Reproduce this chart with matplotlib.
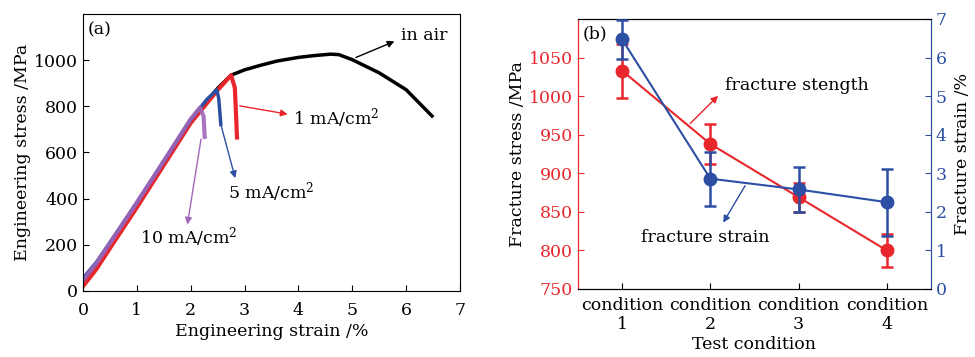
import matplotlib
matplotlib.use("Agg")
import matplotlib.pyplot as plt

plt.rcParams['font.family'] = ['DejaVu Serif']
plt.rcParams['mathtext.fontset'] = 'dejavuserif'

# ---- panel (a): stress-strain curves ----
air_strain = [0, 0.25, 0.5, 1.0, 1.5, 2.0, 2.5, 2.75, 3.0, 3.3, 3.6, 4.0, 4.3, 4.6, 4.75, 5.0, 5.5, 6.0, 6.48]
air_stress = [35, 115, 205, 380, 560, 740, 878, 935, 958, 978, 996, 1012, 1020, 1026, 1024, 1002, 945, 872, 758]

s1_strain = [0, 0.25, 0.5, 1.0, 1.5, 2.0, 2.5, 2.75, 2.82, 2.86]
s1_stress = [20, 95, 185, 362, 545, 728, 870, 935, 880, 665]

s5_strain = [0, 0.25, 0.5, 1.0, 1.5, 2.0, 2.3, 2.485, 2.52, 2.56]
s5_stress = [55, 125, 210, 383, 562, 742, 830, 871, 835, 720]

s10_strain = [0, 0.25, 0.5, 1.0, 1.5, 2.0, 2.175, 2.24, 2.26]
s10_stress = [45, 120, 207, 383, 563, 745, 795, 756, 668]

# ---- panel (b): fracture stress / strain ----
conditions = [1, 2, 3, 4]
cond_labels = ['condition\n1', 'condition\n2', 'condition\n3', 'condition\n4']
frac_stress = [1033, 938, 869, 800]
frac_stress_err = [35, 26, 19, 21]
frac_strain = [6.47, 2.86, 2.58, 2.25]
frac_strain_err = [0.5, 0.7, 0.58, 0.87]

RED = '#e8262b'
BLUE = '#2c4ea3'
PURPLE = '#a066b8'
FS = 12.5

fig = plt.figure(figsize=(9.75, 3.57), dpi=100)

ax = fig.add_axes([0.0851, 0.1849, 0.3867, 0.7759])
ax.plot(air_strain, air_stress, color='black', lw=2.5)
ax.plot(s1_strain, s1_stress, color=RED, lw=3)
ax.plot(s5_strain, s5_stress, color=BLUE, lw=2.5)
ax.plot(s10_strain, s10_stress, color=PURPLE, lw=3, alpha=0.9)
ax.set_xlim(0, 7)
ax.set_ylim(0, 1200)
ax.set_xticks(range(0, 8))
ax.set_yticks(range(0, 1001, 200))
ax.tick_params(direction='in', labelsize=FS, length=4)
ax.tick_params(axis='x', pad=8)
ax.set_xlabel('Engineering strain /%', fontsize=FS, labelpad=3)
ax.set_ylabel('Engineering stress /MPa', fontsize=FS, labelpad=2)
ax.text(0.013, 0.975, '(a)', transform=ax.transAxes, va='top', ha='left', fontsize=FS)

ax.annotate('', xy=(5.83, 1086), xytext=(5.02, 1007),
            arrowprops=dict(arrowstyle='-|>', color='black', lw=1, mutation_scale=10))
ax.text(5.9, 1108, 'in air', fontsize=FS, va='center', ha='left')
ax.annotate('', xy=(3.85, 764), xytext=(2.86, 804),
            arrowprops=dict(arrowstyle='-|>', color=RED, lw=1, mutation_scale=10))
ax.text(3.9, 748, '1 mA/cm$^2$', fontsize=FS, va='center', ha='left')
ax.annotate('', xy=(2.84, 477), xytext=(2.56, 721),
            arrowprops=dict(arrowstyle='-|>', color=BLUE, lw=1, mutation_scale=10))
ax.text(2.7, 427, '5 mA/cm$^2$', fontsize=FS, va='center', ha='left')
ax.annotate('', xy=(1.93, 276), xytext=(2.2, 670),
            arrowprops=dict(arrowstyle='-|>', color=PURPLE, lw=1, mutation_scale=10))
ax.text(1.06, 233, '10 mA/cm$^2$', fontsize=FS, va='center', ha='left')

# ---- panel (b) ----
bx = fig.add_axes([0.5928, 0.1905, 0.362, 0.7563])
bx2 = bx.twinx()
bx.errorbar(conditions, frac_stress, yerr=frac_stress_err, color=RED, lw=1.5,
            elinewidth=1.8, capsize=4, capthick=1.8, marker='o', markersize=9, zorder=3)
bx2.errorbar(conditions, frac_strain, yerr=frac_strain_err, color=BLUE, lw=1.5,
             elinewidth=1.8, capsize=4, capthick=1.8, marker='o', markersize=9, zorder=3)
bx.set_xlim(0.5, 4.5)
bx.set_ylim(750, 1100)
bx.set_yticks(range(750, 1051, 50))
bx2.set_ylim(0, 7)
bx2.set_yticks(range(0, 8))
bx.set_xticks(conditions)
bx.set_xticklabels(cond_labels, fontsize=FS, linespacing=1.15)
bx.tick_params(axis='x', direction='in', length=4, pad=6)
bx.tick_params(axis='y', direction='in', length=4, labelsize=FS, colors=RED)
bx2.tick_params(axis='y', direction='in', length=4, labelsize=FS, colors=BLUE)
bx2.spines['left'].set_color(RED)
bx2.spines['right'].set_color(BLUE)
bx.spines['left'].set_color(RED)
bx.spines['right'].set_color(BLUE)
bx.set_xlabel('Test condition', fontsize=FS, labelpad=2)
bx.set_ylabel('Fracture stress /MPa', fontsize=FS, labelpad=2)
bx2.set_ylabel('Fracture strain /%', fontsize=FS, labelpad=5)
bx.text(0.013, 0.975, '(b)', transform=bx.transAxes, va='top', ha='left', fontsize=FS)

bx.annotate('', xy=(2.11, 1003), xytext=(1.75, 962),
            arrowprops=dict(arrowstyle='-|>', color=RED, lw=1, mutation_scale=10))
bx.text(2.17, 1014, 'fracture stength', fontsize=FS, va='center', ha='left')
bx.annotate('', xy=(2.13, 833), xytext=(2.41, 887),
            arrowprops=dict(arrowstyle='-|>', color=BLUE, lw=1, mutation_scale=10))
bx.text(1.94, 817, 'fracture strain', fontsize=FS, va='center', ha='center')

fig.savefig('out.png', dpi=100)
